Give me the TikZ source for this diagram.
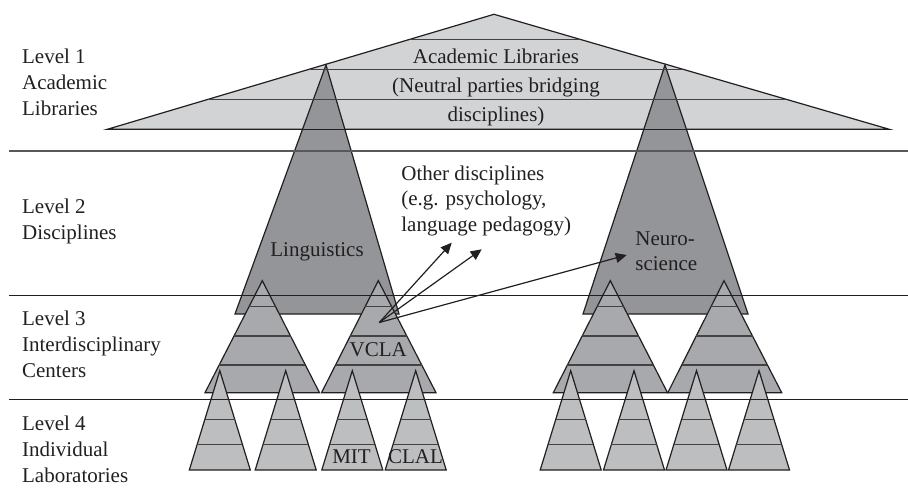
\documentclass[tikz,border=0pt]{standalone}
\usepackage{fontspec}
\setmainfont{Liberation Serif}
\usetikzlibrary{calc,arrows.meta}
\definecolor{inkc}{HTML}{231F20}
\definecolor{libgray}{HTML}{D1D3D4}
\definecolor{discgray}{HTML}{939598}
\definecolor{centgray}{HTML}{A7A9AC}
\definecolor{labgray}{HTML}{BCBEC0}
\tikzset{
  edge/.style={draw=inkc,line width=0.6pt,line join=miter},
  bandline/.style={draw=inkc!85,line width=0.7pt},
  sepline/.style={draw=inkc,line width=0.6pt},
  txt/.style={inner sep=0pt,text=inkc,font=\fontsize{10.5}{13}\selectfont},
  conn/.style={draw=inkc,line width=0.6pt,-{Triangle[length=5.5pt,width=5pt]}},
}
% apex x, apex y, base-left x, base-right x, base y, fill, band y list
\newcommand\bandtri[7]{%
  \path[edge,fill=#6] (#1,#2) -- (#3,#5) -- (#4,#5) -- cycle;
  \foreach \yy in {#7}{%
    \pgfmathsetmacro\bfrac{(\yy-#2)/(#5-#2)}%
    \draw[bandline] ($(#1,#2)!\bfrac!(#3,#5)$) -- ($(#1,#2)!\bfrac!(#4,#5)$);
  }%
}
\begin{document}
\begin{tikzpicture}[x=0.5pt,y=-0.5pt]
\useasboundingbox (0,0) rectangle (908,502);
% Level 1: academic libraries
\path[edge,fill=libgray] (494,14.3) -- (107.3,129.3) -- (889.3,129.3) -- cycle;
% Level 2: disciplines
\path[edge,fill=discgray] (326,65) -- (235,314) -- (399,314) -- cycle;
\path[edge,fill=discgray] (665,65) -- (583,314) -- (748,314) -- cycle;
% bands of level 1 (drawn over)
\foreach \yy in {39.3,69.3,99.3}{%
  \pgfmathsetmacro\bfrac{(\yy-14.3)/(129.3-14.3)}%
  \draw[bandline] ($(494,14.3)!\bfrac!(107.3,129.3)$) -- ($(494,14.3)!\bfrac!(889.3,129.3)$);
}
\draw[edge] (107.3,129.3) -- (889.3,129.3);
% Level 3: centers
\bandtri{262.3}{280.7}{205}{319.5}{392.7}{centgray}{306.7,336,365}
\bandtri{378.3}{280.7}{321.5}{436}{392.7}{centgray}{306.7,336,365}
\bandtri{610.3}{280.7}{553.3}{667.5}{392.7}{centgray}{306.7,336,365}
\bandtri{724}{280.7}{667.8}{781.7}{392.7}{centgray}{306.7,336,365}
% Level 4: laboratories
\foreach \cx in {219.8,285.7,352.3,415.7,570.7,634,696.5,759}{%
  \bandtri{\cx}{370.7}{\cx-30.5}{\cx+30.5}{470}{labgray}{419.3,444.5}
}
% level separators
\draw[sepline,draw=inkc!75,line width=0.9pt] (9.3,150.7) -- (908,150.7);
\draw[sepline] (9.3,295.7) -- (908,295.7);
\draw[sepline] (9.3,399.3) -- (908,399.3);
% level labels
\node[txt,anchor=north west,align=left] (lv1) at (21.7,48.4) {Level 1\\Academic\\Libraries};
\node[txt,anchor=north west,align=left] (lv2) at (21.7,199) {Level 2\\Disciplines};
\node[txt,anchor=north west,align=left] (lv3) at (21.7,310.7) {Level 3\\Interdisciplinary\\Centers};
\node[txt,anchor=north west,align=left] (lv4) at (21.7,415.7) {Level 4\\Individual\\Laboratories};
% texts in shapes
\node[txt,anchor=north,align=center,font=\fontsize{10.5}{14.4}\selectfont] (acad) at (496,49) {Academic Libraries\\(Neutral parties bridging\\disciplines)};
\node[txt,anchor=base] (ling) at (317,256.7) {Linguistics};
\node[txt,anchor=north west,align=left,font=\fontsize{10.5}{12.5}\selectfont] (neuro) at (635,231) {Neuro-\\science};
\node[txt,anchor=north west,align=left,font=\fontsize{10.5}{12.6}\selectfont] (other) at (401,165.7) {Other disciplines\\(e.g. psychology,\\language pedagogy)};
\node[txt,anchor=base] (vcla) at (378.3,356.7) {VCLA};
\node[txt,anchor=base] (mit) at (351.5,463.3) {MIT};
\node[txt,anchor=base] (clal) at (415.5,463.3) {CLAL};
% arrows
\coordinate (src) at (379.3,322.5);
\coordinate (tipa) at (451.7,242.7);
\coordinate (tipb) at (481.7,249.3);
\coordinate (tipc) at (626.7,255);
\draw[conn] (src) -- (tipa);
\draw[conn] (src) -- (tipb);
\draw[conn] (src) -- (tipc);
\end{tikzpicture}
\end{document}
